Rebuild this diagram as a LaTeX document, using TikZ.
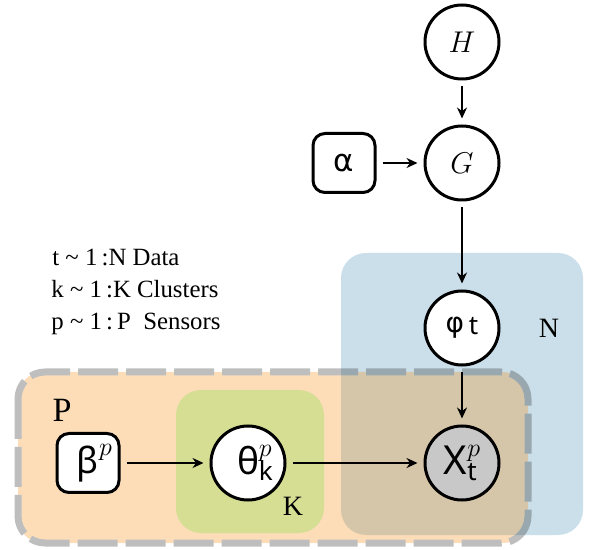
\documentclass[tikz,border=0pt]{standalone}
\usepackage{fix-cm}
\usepackage{fontspec}
\setmainfont{Liberation Serif}
\newfontfamily\nsf{Noto Sans}
\newfontfamily\dsf{DejaVu Sans}
\usetikzlibrary{arrows.meta}
\definecolor{platen}{HTML}{CADFEA}
\definecolor{platep}{RGB}{245,142,20}
\definecolor{platek}{HTML}{D6DE94}
\definecolor{dashg}{RGB}{40,40,40}
\definecolor{obsg}{HTML}{C8C8C8}
\newcommand\supsub[2]{\ooalign{\raisebox{9pt}{\fontsize{13}{13}\selectfont$#1$}\cr
  \raisebox{-3pt}{\fontsize{13}{13}\selectfont #2}}}
\tikzset{
  var/.style={circle,draw,line width=1.5pt,minimum size=37pt,inner sep=0pt,fill=white},
  obs/.style={var,fill=obsg},
  hyp/.style={rectangle,rounded corners=6pt,draw,line width=1.5pt,minimum width=31pt,
    minimum height=29.5pt,inner sep=0pt,fill=white},
  edge/.style={-{Stealth[length=5.5pt,width=5pt]},line width=1pt,shorten <=3pt,shorten >=3pt},
  plate/.style={rounded corners=12.5pt},
  lab/.style={font=\fontsize{14}{14}\selectfont},
  leg/.style={anchor=base west,inner sep=0pt,font=\fontsize{12.4}{16}\selectfont},
  grk/.style={font=\nsf\fontsize{#1}{#1}\selectfont},
  grkd/.style={font=\dsf\fontsize{#1}{#1}\selectfont},
}

\begin{document}
\begin{tikzpicture}[x=0.5pt,y=-0.5pt]
  \useasboundingbox (0,0) rectangle (589,550);
  % plates
  \fill[platen,plate] (341,253) rectangle (583,535);
  \begin{scope}[transparency group,opacity=0.3]
    \fill[platep,plate] (18,372) rectangle (528,543);
    \draw[dashg,line width=3.5pt,dash pattern=on 20pt off 4pt,
      rounded corners=13.5pt] (18,372) rectangle (528,543);
  \end{scope}
  \fill[platek,plate] (176,390) rectangle (324,533);
  \node[lab] (labn) at (549,328) {N};
  \node[lab] (labk) at (293,506) {K};
  \node[lab,font=\fontsize{17}{17}\selectfont] (labp) at (62,410) {P};
  % legend
  \node[leg] (legt) at (52,266) {t \textasciitilde{} 1\,:N Data};
  \node[leg] (legk) at (51,298) {k \textasciitilde{} 1\,:K Clusters};
  \node[leg] (legp) at (51,330) {p \textasciitilde{} 1\,:\,P\ \ Sensors};
  % variables
  \node[var,font=\fontsize{15}{15}\selectfont] (h) at (462,42) {$H$};
  \node[var,font=\fontsize{15}{15}\selectfont] (g) at (462,163) {$G$};
  \node[hyp,grkd=15.5] (alpha) at (344,163) {α};
  \node[var,grkd=14] (phi) at (462,328) {φ\,\raisebox{-1pt}{\nsf\fontsize{13}{13}\selectfont t}};
  \node[obs,grk=20] (x) at (462,463) {X\supsub{p}{t}};
  \node[var,grk=18.5] (theta) at (248,463) {θ\rlap{\supsub{p}{k}}};
  \node[hyp,grk=18] (beta) at (88,463) {β\rlap{\raisebox{9pt}{\fontsize{13}{13}\selectfont$p$}}};
  % edges
  \draw[edge] (h) -- (g);
  \draw[edge] (alpha) -- (g);
  \draw[edge] (g) -- (phi);
  \draw[edge] (phi) -- (x);
  \draw[edge] (beta) -- (theta);
  \draw[edge] (theta) -- (x);
\end{tikzpicture}
\end{document}
